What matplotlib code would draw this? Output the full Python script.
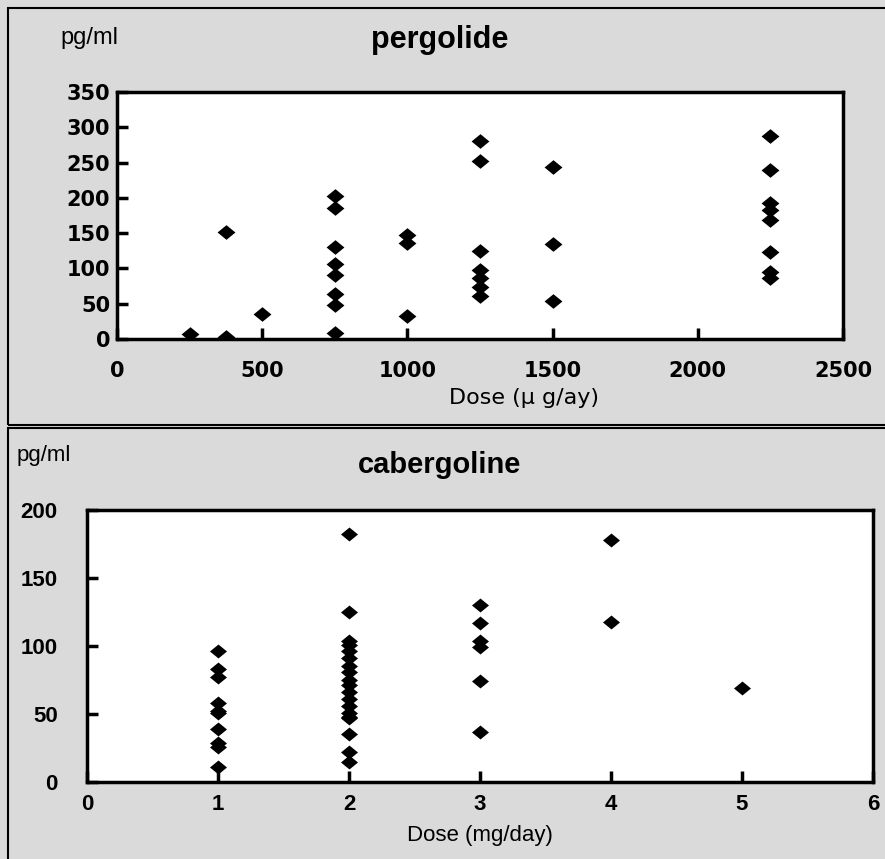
import matplotlib.pyplot as plt
from matplotlib.patches import Rectangle

plt.rcParams['font.family'] = ['DejaVu Sans']

# pergolide: dose (ug/day) vs level (pg/ml)
perg_dose = [250, 375, 375, 500,
             750, 750, 750, 750, 750, 750, 750, 750,
             1000, 1000, 1000,
             1250, 1250, 1250, 1250, 1250, 1250, 1250,
             1500, 1500, 1500,
             2250, 2250, 2250, 2250, 2250, 2250, 2250, 2250]
perg_val = [7, 151, 3, 35,
            203, 186, 130, 106, 90, 64, 48, 8,
            148, 136, 33,
            281, 252, 125, 98, 86, 74, 61,
            244, 134, 54,
            288, 240, 193, 183, 168, 123, 95, 86]

# cabergoline: dose (mg/day) vs level (pg/ml)
cab_dose = [1] * 10 + [2] * 19 + [3] * 6 + [4, 4, 5]
cab_val = [96, 83, 77, 58, 51, 39, 29, 26, 11, 52,
           182, 125, 104, 101, 96, 91, 85, 81, 75, 71, 66, 61, 56, 51, 47, 35, 22, 15, 48,
           130, 117, 104, 99, 74, 37,
           178, 118, 69]

perg_xticks = [0, 500, 1000, 1500, 2000, 2500]
perg_yticks = [0, 50, 100, 150, 200, 250, 300, 350]
cab_xticks = [0, 1, 2, 3, 4, 5, 6]
cab_yticks = [0, 50, 100, 150, 200]

diamond = [(-1, 0), (0, 0.82), (1, 0), (0, -0.82), (-1, 0)]

fig = plt.figure(figsize=(8.85, 8.59), dpi=100, facecolor='#dadada')

# panel frames
fig.add_artist(Rectangle((8 / 885, 1 - 425 / 859), 1, 417 / 859, transform=fig.transFigure,
                         fill=False, lw=1.5, ec='black'))
fig.add_artist(Rectangle((8 / 885, -0.01), 1, 1 - 428 / 859 + 0.01, transform=fig.transFigure,
                         fill=False, lw=1.5, ec='black'))

# top panel
ax1 = fig.add_axes([117 / 885, 1 - 339 / 859, 726 / 885, 247 / 859])
ax1.scatter(perg_dose, perg_val, marker=diamond, s=165, color='black', lw=0)
ax1.set_xlim(0, 2500)
ax1.set_ylim(0, 350)
ax1.set_xticks(perg_xticks)
ax1.set_yticks(perg_yticks)
ax1.tick_params(direction='in', length=8, width=2.5, labelsize=15)
ax1.tick_params(axis='x', pad=16)
ax1.tick_params(axis='y', pad=5)
for lab in ax1.get_xticklabels() + ax1.get_yticklabels():
    lab.set_fontweight('bold')
ax1.set_xlabel('Dose (μ g/ay)', fontsize=16)
ax1.xaxis.set_label_coords(0.56, -0.2)
fig.text(60 / 885, 1 - 38 / 859, 'pg/ml', fontsize=17, va='center', family='Liberation Sans')
fig.text(440 / 885, 1 - 40 / 859, 'pergolide', fontsize=22, fontweight='bold',
         ha='center', va='center', family='Liberation Sans')

# bottom panel
ax2 = fig.add_axes([87 / 885, 1 - 782 / 859, 786 / 885, 272 / 859])
ax2.scatter(cab_dose, cab_val, marker=diamond, s=150, color='black', lw=0)
ax2.set_xlim(0, 6)
ax2.set_ylim(0, 200)
ax2.set_xticks(cab_xticks)
ax2.set_yticks(cab_yticks)
ax2.tick_params(direction='in', length=8, width=2.5, labelsize=16)
ax2.tick_params(axis='x', pad=9)
ax2.tick_params(axis='y', pad=21)
for lab in ax2.get_xticklabels() + ax2.get_yticklabels():
    lab.set_fontweight('bold')
    lab.set_family('Liberation Sans')
ax2.set_xlabel('Dose (mg/day)', fontsize=16, family='Liberation Sans')
ax2.xaxis.set_label_coords(0.5, -0.158)
fig.text(17 / 885, 1 - 455 / 859, 'pg/ml', fontsize=16, va='center', family='Liberation Sans')
fig.text(440 / 885, 1 - 465 / 859, 'cabergoline', fontsize=21, fontweight='bold',
         ha='center', va='center', family='Liberation Sans')

for ax in (ax1, ax2):
    for sp in ax.spines.values():
        sp.set_linewidth(2.5)

fig.savefig('out.png', dpi=100, facecolor=fig.get_facecolor())
